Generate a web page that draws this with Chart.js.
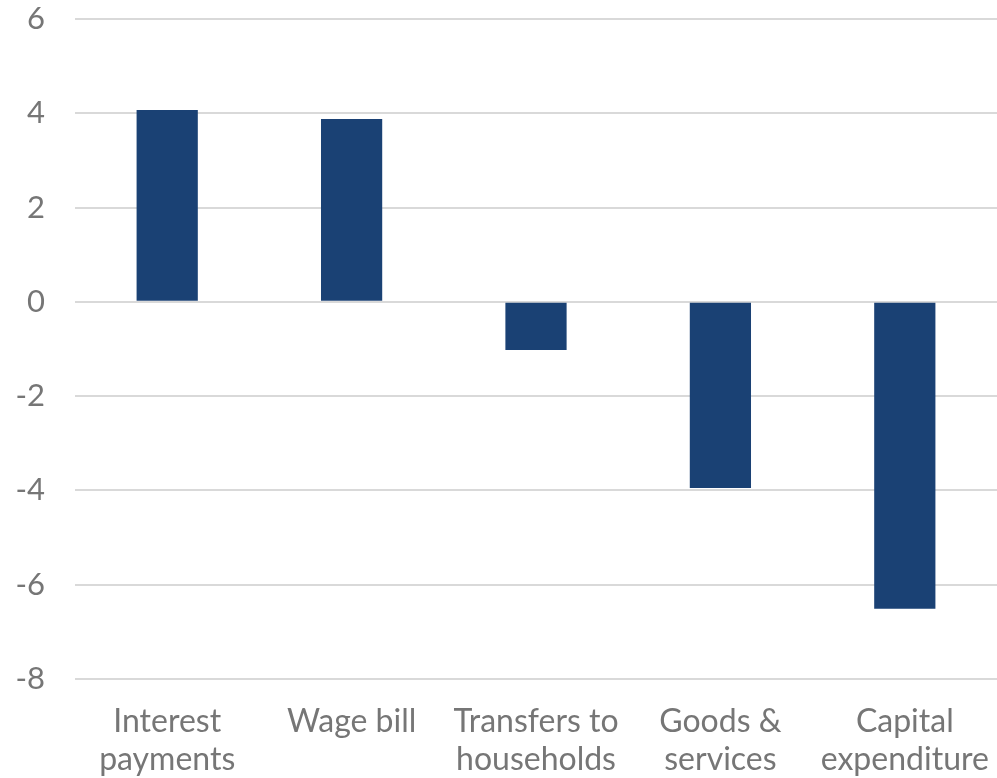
<!DOCTYPE html>
<html>
<head>
<meta charset="utf-8">
<script src="https://cdn.jsdelivr.net/npm/chart.js@4"></script>
<style>
  body { margin: 0; background: #fff; }
</style>
</head>
<body>
<canvas id="barchart" width="997" height="778"></canvas>
<script>
const categories = [
    ["Interest", "payments"],
    "Wage bill",
    ["Transfers to", "households"],
    ["Goods &", "services"],
    ["Capital", "expenditure"]
];
const values = [4.07, 3.88, -1.02, -3.95, -6.51];
const yMin = -8;
const yMax = 6;
const yStep = 2;

const ctx = document.getElementById("barchart");
const myChart = new Chart(ctx, {
    type: 'bar',
    data: {
        labels: categories,
        datasets: [{
            data: values,
            backgroundColor: '#1a4174',
            borderWidth: 0,
            categoryPercentage: 1,
            barPercentage: 0.332
        }]
    },
    options: {
        responsive: false,
        animation: false,
        layout: {
            padding: { left: 17, right: 0, top: 19, bottom: 0 }
        },
        plugins: {
            legend: { display: false },
            tooltip: { enabled: false }
        },
        scales: {
            x: {
                grid: { display: false, drawTicks: false },
                border: { display: false },
                // keep the plot bottom where the reference has it
                afterFit: function(scale) {
                    scale.paddingLeft = 0;
                    scale.paddingRight = 0;
                    scale.height = 99;
                },
                ticks: {
                    color: '#767676',
                    font: { family: 'Lato', size: 32, lineHeight: 1.2 },
                    padding: 23,
                    maxRotation: 0,
                    autoSkip: false
                }
            },
            y: {
                min: yMin,
                max: yMax,
                grid: { color: '#d9d9d9', lineWidth: 2, drawTicks: false },
                border: { display: false },
                afterFit: function(scale) {
                    scale.paddingTop = 0;
                    scale.paddingBottom = 0;
                    scale.width = 58;
                },
                ticks: {
                    stepSize: yStep,
                    color: '#767676',
                    font: { family: 'Lato', size: 31 },
                    padding: 30
                }
            }
        }
    }
});
</script>
</body>
</html>
